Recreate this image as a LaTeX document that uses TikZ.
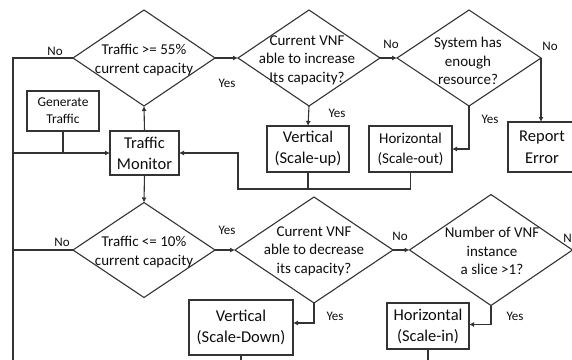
\documentclass[tikz,border=0pt]{standalone}
\usepackage{fontspec}
\setmainfont{Carlito}
\usetikzlibrary{shapes.geometric,arrows.meta}
\definecolor{ln}{HTML}{333333}
\definecolor{tx}{HTML}{0D0D0D}
\tikzset{
  dia/.style={diamond,draw=ln,line width=1.1pt,inner sep=0pt,outer sep=0pt},
  box/.style={rectangle,draw=ln,line width=1.1pt,inner sep=0pt,outer sep=0pt,align=center,text=tx},
  dtext/.style={align=center,text=tx,inner sep=0pt,font=\fontsize{15}{18.5}\selectfont},
  big/.style={font=\fontsize{16.5}{21}\selectfont},
  yn/.style={text=tx,inner sep=0pt,font=\fontsize{13}{15}\selectfont},
  con/.style={draw=ln,line width=1.1pt},
  arr/.style={con,-{Latex[length=5pt,width=5pt]}}
}
\begin{document}
\begin{tikzpicture}[x=1pt,y=-1pt]
\useasboundingbox (0,0) rectangle (572,359);
\clip (0,0) rectangle (572,359);
% diamonds
\node[dia,minimum width=142pt,minimum height=96pt] (d1) at (144,58) {};
\node[dia,minimum width=142pt,minimum height=96pt] (d2) at (309,58) {};
\node[dia,minimum width=144pt,minimum height=96pt] (d3) at (469,58) {};
\node[dia,minimum width=142pt,minimum height=95pt] (d4) at (144,250) {};
\node[dia,minimum width=158pt,minimum height=106pt] (d5) at (314,250) {};
\node[dia,minimum width=163pt,minimum height=111pt] (d6) at (491,250) {};
\node[dtext] (t1) at (144,60) {Traffic >= 55\%\\current capacity};
\node[dtext] (t2) at (307,60) {Current VNF\\able to increase\\Its capacity?};
\node[dtext] (t3) at (468,61) {System has\\enough\\resource?};
\node[dtext] (t4) at (144,252) {Traffic <= 10\%\\current capacity};
\node[dtext] (t5) at (314,251) {Current VNF\\able to decrease\\its capacity?};
\node[dtext] (t6) at (492,251) {Number of VNF\\instance\\a slice >1?};
% boxes
\node[box,minimum width=72pt,minimum height=40pt,font=\fontsize{13.5}{17}\selectfont] (gen) at (63,111) {Generate\\Traffic};
\node[box,big,minimum width=69pt,minimum height=44pt] (tm) at (144.5,153) {Traffic\\Monitor};
\node[box,big,minimum width=82pt,minimum height=46pt] (vup) at (308,149) {Vertical\\(Scale-up)};
\node[box,minimum width=83pt,minimum height=46pt,font=\fontsize{15}{20}\selectfont] (hout) at (410.5,149) {Horizontal\\(Scale-out)};
\node[box,minimum width=68pt,minimum height=50pt,font=\fontsize{16.5}{22}\selectfont] (rep) at (542,147) {Report\\Error};
\node[box,big,minimum width=104pt,minimum height=55pt] (vdn) at (241,327.5) {Vertical\\(Scale-Down)};
\node[box,big,minimum width=82pt,minimum height=46pt] (hin) at (428,326) {Horizontal\\(Scale-in)};
% coordinates
\coordinate (lt) at (13,58);
\coordinate (lm) at (13,153);
\coordinate (lb) at (13,370);
\coordinate (rj) at (238,189);
\coordinate (vb) at (241,370);
\coordinate (hb) at (428,370);
\coordinate (re) at (590,250);
% connectors
\draw[arr] (d1.east) -- (d2.west);
\draw[arr] (d2.east) -- (d3.west);
\draw[arr] (d2.south) -- (vup.north);
\draw[arr] (d3.east) -- (d3.east |- rep.north);
\draw[arr] (d3.south) -- (d3.south |- hout.east) -- (hout.east);
\draw[con] (d1.west) -- (lt) -- (lb);
\draw[arr] (lm) -- (tm.west);
\draw[con] (gen.south) -- (gen.south |- lm);
\draw[arr] (tm.north) -- (d1.south);
\draw[arr] (tm.south) -- (d4.north);
\draw[arr] (hout.south) -- (hout.south |- rj) -- (rj) -- (rj |- tm.east) -- (tm.east);
\draw[con] (vup.south) -- (vup.south |- rj);
\draw[con] (d4.west) -- (d4.west -| lt);
\draw[arr] (d4.east) -- (d5.west);
\draw[arr] (d5.east) -- (d6.west);
\draw[arr] (d5.south) -- ([yshift=-20pt]d5.south) -- ([yshift=-20pt]d5.south -| vdn.east);
\draw[arr] (d6.south) -- ([yshift=-19pt]d6.south) -- ([yshift=-19pt]d6.south -| hin.east);
\draw[con] (vdn.south) -- (vb);
\draw[con] (hin.south) -- (hb);
\draw[con] (d6.east) -- (re);
% labels
\node[yn] (n1) at (55,51) {No};
\node[yn] (y1) at (227,83) {Yes};
\node[yn] (n2) at (391,44) {No};
\node[yn] (n3) at (550,46) {No};
\node[yn] (y2) at (337,113) {Yes};
\node[yn] (y3) at (490,119) {Yes};
\node[yn] (n4) at (62,242) {No};
\node[yn] (y4) at (227,230) {Yes};
\node[yn] (n5) at (400,236) {No};
\node[yn] (y5) at (335,316) {Yes};
\node[yn] (y6) at (515,316) {Yes};
\node[yn,anchor=east] (n6) at (572,238) {N};
\end{tikzpicture}
\end{document}
